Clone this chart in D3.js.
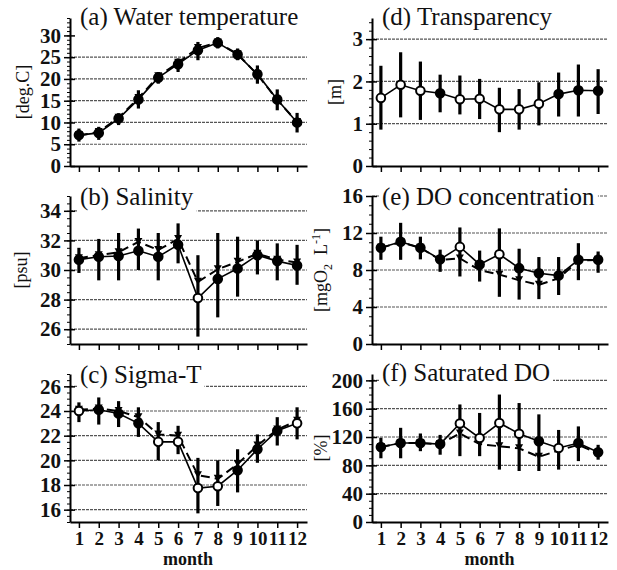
<!DOCTYPE html>
<html>
<head>
<meta charset="utf-8">
<script src="https://cdn.jsdelivr.net/npm/d3@7"></script>
<style>
body { margin: 0; background: #fff; }
svg { display: block; }
svg text { font-family: "Liberation Serif", "Times New Roman", serif; }
</style>
</head>
<body>
<svg id="chart" width="617" height="570"></svg>
<script>
// months on the x axis
const months = [1, 2, 3, 4, 5, 6, 7, 8, 9, 10, 11, 12];

// (a) water temperature [deg.C]
const tempMean  = [7.1, 7.6, 10.9, 15.3, 20.3, 23.4, 26.6, 28.3, 25.6, 21.1, 15.3, 10.0];
const tempMean2 = [7.0, 7.8, 11.1, 15.6, 20.6, 23.7, 27.1, 28.4, 25.7, 21.0, 15.2, 10.1];
const tempLow   = [5.6, 6.0, 9.4, 13.2, 18.9, 21.6, 24.3, 27.0, 24.3, 18.9, 12.8, 7.7];
const tempHigh  = [8.6, 9.0, 12.1, 17.4, 21.6, 24.7, 28.5, 29.6, 27.0, 23.1, 17.6, 12.2];
const tempOpen  = [0, 0, 0, 0, 0, 0, 0, 0, 0, 0, 0, 0];
const tempTicks = [0, 5, 10, 15, 20, 25, 30];

// (b) salinity [psu]
const salMean  = [30.7, 30.9, 30.95, 31.3, 30.9, 31.7, 28.1, 29.4, 30.1, 31.0, 30.6, 30.3];
const salMean2 = [30.8, 31.0, 31.2, 31.9, 31.35, 32.1, 29.2, 30.05, 30.55, 31.1, 30.7, 30.5];
const salLow   = [29.8, 29.3, 29.3, 30.0, 29.3, 30.45, 25.5, 26.8, 28.2, 29.7, 29.3, 29.0];
const salHigh  = [31.5, 32.1, 32.5, 32.8, 32.5, 33.15, 31.0, 32.5, 32.25, 32.0, 31.8, 31.7];
const salOpen  = [0, 0, 0, 0, 0, 0, 1, 0, 0, 0, 0, 0];
const salTicks = [26, 28, 30, 32, 34];

// (c) sigma-T
const sigMean  = [24.0, 24.1, 23.8, 23.0, 21.5, 21.5, 17.75, 17.9, 19.2, 20.9, 22.4, 23.0];
const sigMean2 = [24.1, 24.2, 24.0, 23.5, 22.1, 22.0, 18.8, 18.5, 19.7, 21.2, 22.5, 23.2];
const sigLow   = [23.1, 22.9, 22.7, 21.9, 20.0, 20.5, 15.7, 16.3, 17.4, 19.8, 21.2, 21.7];
const sigHigh  = [24.7, 25.1, 24.8, 24.3, 23.1, 22.8, 20.2, 20.0, 20.9, 22.1, 23.5, 24.3];
const sigOpen  = [1, 0, 0, 0, 1, 1, 1, 1, 0, 0, 0, 1];
const sigTicks = [16, 18, 20, 22, 24, 26];

// (d) transparency [m]
const trMean  = [1.61, 1.92, 1.78, 1.72, 1.58, 1.59, 1.34, 1.34, 1.47, 1.70, 1.79, 1.78];
const trLow   = [0.86, 1.15, 1.09, 1.27, 1.22, 1.11, 0.80, 0.86, 0.96, 1.17, 1.17, 1.23];
const trHigh  = [2.37, 2.69, 2.47, 2.16, 2.14, 2.06, 1.85, 1.82, 1.98, 2.21, 2.40, 2.29];
const trOpen  = [1, 1, 1, 0, 1, 1, 1, 1, 1, 0, 0, 0];
const trTicks = [0, 1, 2, 3];

// (e) DO concentration [mgO2 L-1]
const doMean  = [10.4, 11.05, 10.4, 9.15, 10.5, 8.6, 9.7, 8.2, 7.65, 7.4, 9.1, 9.1];
const doMean2 = [10.4, 11.0, 10.4, 9.1, 9.25, 8.0, 7.5, 6.9, 6.4, 7.1, 9.0, 9.1];
const doLow   = [9.1, 9.1, 9.15, 7.8, 7.3, 6.75, 5.1, 4.8, 4.85, 5.3, 6.9, 7.7];
const doHigh  = [11.6, 13.1, 11.6, 10.2, 12.6, 10.1, 12.5, 10.3, 9.4, 9.4, 10.9, 10.0];
const doOpen  = [0, 0, 0, 0, 1, 0, 1, 0, 0, 0, 0, 0];
const doTicks = [0, 4, 8, 12, 16];

// (f) saturated DO [%]
const satMean  = [106, 111.5, 111.5, 110, 139, 118.6, 139.8, 124.7, 113.9, 104.5, 111.5, 98.4];
const satMean2 = [106, 111.5, 111.5, 110, 125, 110, 107, 104, 92, 101, 109, 97];
const satLow   = [90, 90, 100, 95, 93, 93, 74, 72, 72, 74, 86, 88];
const satHigh  = [119, 133, 125, 123, 166, 154, 180, 168, 152, 130, 135, 109];
const satOpen  = [0, 0, 0, 0, 1, 1, 1, 1, 0, 1, 0, 0];
const satTicks = [0, 40, 80, 120, 160, 200];

// layout
const columns = [{ left: 70, right: 307 }, { left: 372, right: 608 }];
const rows = [{ bottom: 166, top: 18 }, { bottom: 344, top: 196 }, { bottom: 522, top: 374 }];
const monthDomain = [0.55, 12.5];
const serif = '"Liberation Serif", "Times New Roman", serif';

const panels = [
    { title: '(a) Water temperature', mean: tempMean, mean2: tempMean2, low: tempLow, high: tempHigh, open: tempOpen,
      ticks: tempTicks, grid: tempTicks.slice(1, -1), domain: [0, 34], minor: 1, col: 0, row: 0,
      label: '[deg.C]', labelX: 23, titleY: 25 },
    { title: '(b) Salinity', mean: salMean, mean2: salMean2, low: salLow, high: salHigh, open: salOpen,
      ticks: salTicks, grid: salTicks, domain: [25, 35], minor: 0.5, col: 0, row: 1,
      label: '[psu]', labelX: 21, titleY: 205 },
    { title: '(c) Sigma-T', mean: sigMean, mean2: sigMean2, low: sigLow, high: sigHigh, open: sigOpen,
      ticks: sigTicks, grid: sigTicks, domain: [15, 27], minor: 0.5, col: 0, row: 2,
      label: null, titleY: 383 },
    { title: '(d) Transparency', mean: trMean, mean2: null, low: trLow, high: trHigh, open: trOpen,
      ticks: trTicks, grid: trTicks.slice(1), domain: [0, 3.5], minor: 0.2, col: 1, row: 0,
      label: '[m]', labelX: 335, titleY: 25 },
    { title: '(e) DO concentration', mean: doMean, mean2: doMean2, low: doLow, high: doHigh, open: doOpen,
      ticks: doTicks, grid: doTicks.slice(1), domain: [0, 16], minor: 1, col: 1, row: 1,
      label: 'mgO2', labelX: 321, titleY: 205 },
    { title: '(f) Saturated DO', mean: satMean, mean2: satMean2, low: satLow, high: satHigh, open: satOpen,
      ticks: satTicks, grid: satTicks.slice(1), domain: [0, 209], minor: 10, col: 1, row: 2,
      label: '[%]', labelX: 321, titleY: 381 }
];

const svg = d3.select('#chart');

panels.forEach(drawPanel);

function drawPanel(p) {
    const col = columns[p.col];
    const row = rows[p.row];
    const x = d3.scaleLinear().domain(monthDomain).range([col.left, col.right]);
    const y = d3.scaleLinear().domain(p.domain).range([row.bottom, row.top]);
    const g = svg.append('g');

    // horizontal grid lines
    g.append('g').selectAll('line')
        .data(p.grid)
        .join('line')
        .attr('x1', col.left).attr('x2', col.right)
        .attr('y1', d => y(d)).attr('y2', d => y(d))
        .attr('stroke', '#555')
        .attr('stroke-width', 1.2)
        .attr('stroke-dasharray', '3,1');

    // title with white box (hides the grid line under it)
    const title = g.append('text')
        .attr('x', col.left + 10)
        .attr('y', p.titleY)
        .attr('font-family', serif)
        .attr('font-size', 25)
        .attr('fill', '#111')
        .text(p.title);
    const bb = title.node().getBBox();
    g.insert('rect', 'text')
        .attr('x', bb.x - 3).attr('y', bb.y)
        .attr('width', bb.width + 6).attr('height', bb.height + 1)
        .attr('fill', '#fff');

    // error bars
    g.append('g').selectAll('line')
        .data(months)
        .join('line')
        .attr('x1', d => x(d)).attr('x2', d => x(d))
        .attr('y1', (d, i) => y(p.low[i]))
        .attr('y2', (d, i) => y(p.high[i]))
        .attr('stroke', '#000')
        .attr('stroke-width', 3.2);

    const line = d3.line().x((d, i) => x(months[i])).y(d => y(d));

    if (p.mean2) {
        g.append('path')
            .attr('d', line(p.mean2))
            .attr('fill', 'none')
            .attr('stroke', '#000')
            .attr('stroke-width', 2)
            .attr('stroke-dasharray', '9,5');
        g.append('g').selectAll('path')
            .data(p.mean2)
            .join('path')
            .attr('transform', (d, i) => `translate(${x(months[i])},${y(d)})`)
            .attr('d', 'M-4,-4L4,-4L0,3Z')
            .attr('fill', '#000');
    }

    g.append('path')
        .attr('d', line(p.mean))
        .attr('fill', 'none')
        .attr('stroke', '#000')
        .attr('stroke-width', 1.6);

    g.append('g').selectAll('circle')
        .data(p.mean)
        .join('circle')
        .attr('cx', (d, i) => x(months[i]))
        .attr('cy', d => y(d))
        .attr('r', 4.3)
        .attr('fill', (d, i) => p.open[i] ? '#fff' : '#000')
        .attr('stroke', '#000')
        .attr('stroke-width', 2);

    // y axis: minor ticks, then major ticks with labels
    const minorTicks = d3.range(p.domain[0], p.domain[1] + 1e-9, p.minor);
    g.append('g')
        .attr('transform', `translate(${col.left},0)`)
        .call(d3.axisLeft(y).tickValues(minorTicks).tickSize(3).tickFormat(''))
        .call(a => a.select('.domain').remove())
        .call(a => a.selectAll('line').attr('stroke', '#000').attr('stroke-width', 1));

    const yAxis = g.append('g')
        .attr('transform', `translate(${col.left},0)`)
        .call(d3.axisLeft(y).tickValues(p.ticks).tickFormat(d => String(d))
            .tickSize(6).tickSizeOuter(0).tickPadding(3));
    yAxis.attr('font-family', null).attr('font-size', null);
    yAxis.select('.domain').attr('stroke', '#000').attr('stroke-width', 2);
    yAxis.selectAll('.tick line').attr('x2', -6).attr('x1', 5).attr('stroke', '#000').attr('stroke-width', 1.5);
    yAxis.selectAll('.tick text')
        .attr('font-family', serif)
        .attr('font-size', 21)
        .attr('font-weight', 'bold')
        .attr('fill', '#111');

    // x axis
    const xAxis = g.append('g')
        .attr('transform', `translate(0,${row.bottom})`)
        .call(d3.axisBottom(x).tickValues(months).tickSize(6).tickSizeOuter(0).tickPadding(4));
    xAxis.attr('font-family', null).attr('font-size', null);
    xAxis.select('.domain').attr('stroke', '#000').attr('stroke-width', 2);
    xAxis.selectAll('.tick line').attr('stroke', '#000').attr('stroke-width', 1.5);
    if (p.row === 2) {
        xAxis.selectAll('.tick text')
            .attr('font-family', serif)
            .attr('font-size', 19)
            .attr('font-weight', 'bold')
            .attr('fill', '#111');
        g.append('text')
            .attr('x', (x(1) + x(12)) / 2)
            .attr('y', 565)
            .attr('text-anchor', 'middle')
            .attr('font-family', serif)
            .attr('font-size', 18)
            .attr('font-weight', 'bold')
            .attr('fill', '#111')
            .text('month');
    } else {
        xAxis.selectAll('.tick text').remove();
    }

    // y axis label
    if (p.label) {
        const cy = (row.top + row.bottom) / 2;
        const lab = g.append('text')
            .attr('transform', `translate(${p.labelX},${cy}) rotate(-90)`)
            .attr('text-anchor', 'middle')
            .attr('dy', '0.35em')
            .attr('font-family', serif)
            .attr('font-size', 18)
            .attr('fill', '#111');
        if (p.label === 'mgO2') {
            lab.append('tspan').text('[mgO');
            lab.append('tspan').attr('font-size', 12).attr('dy', 5).text('2');
            lab.append('tspan').attr('dy', -5).text('\u00a0 L');
            lab.append('tspan').attr('font-size', 12).attr('dy', -7).text('-1');
            lab.append('tspan').attr('dy', 7).text(']');
        } else {
            lab.text(p.label);
        }
    }
}
</script>
</body>
</html>
